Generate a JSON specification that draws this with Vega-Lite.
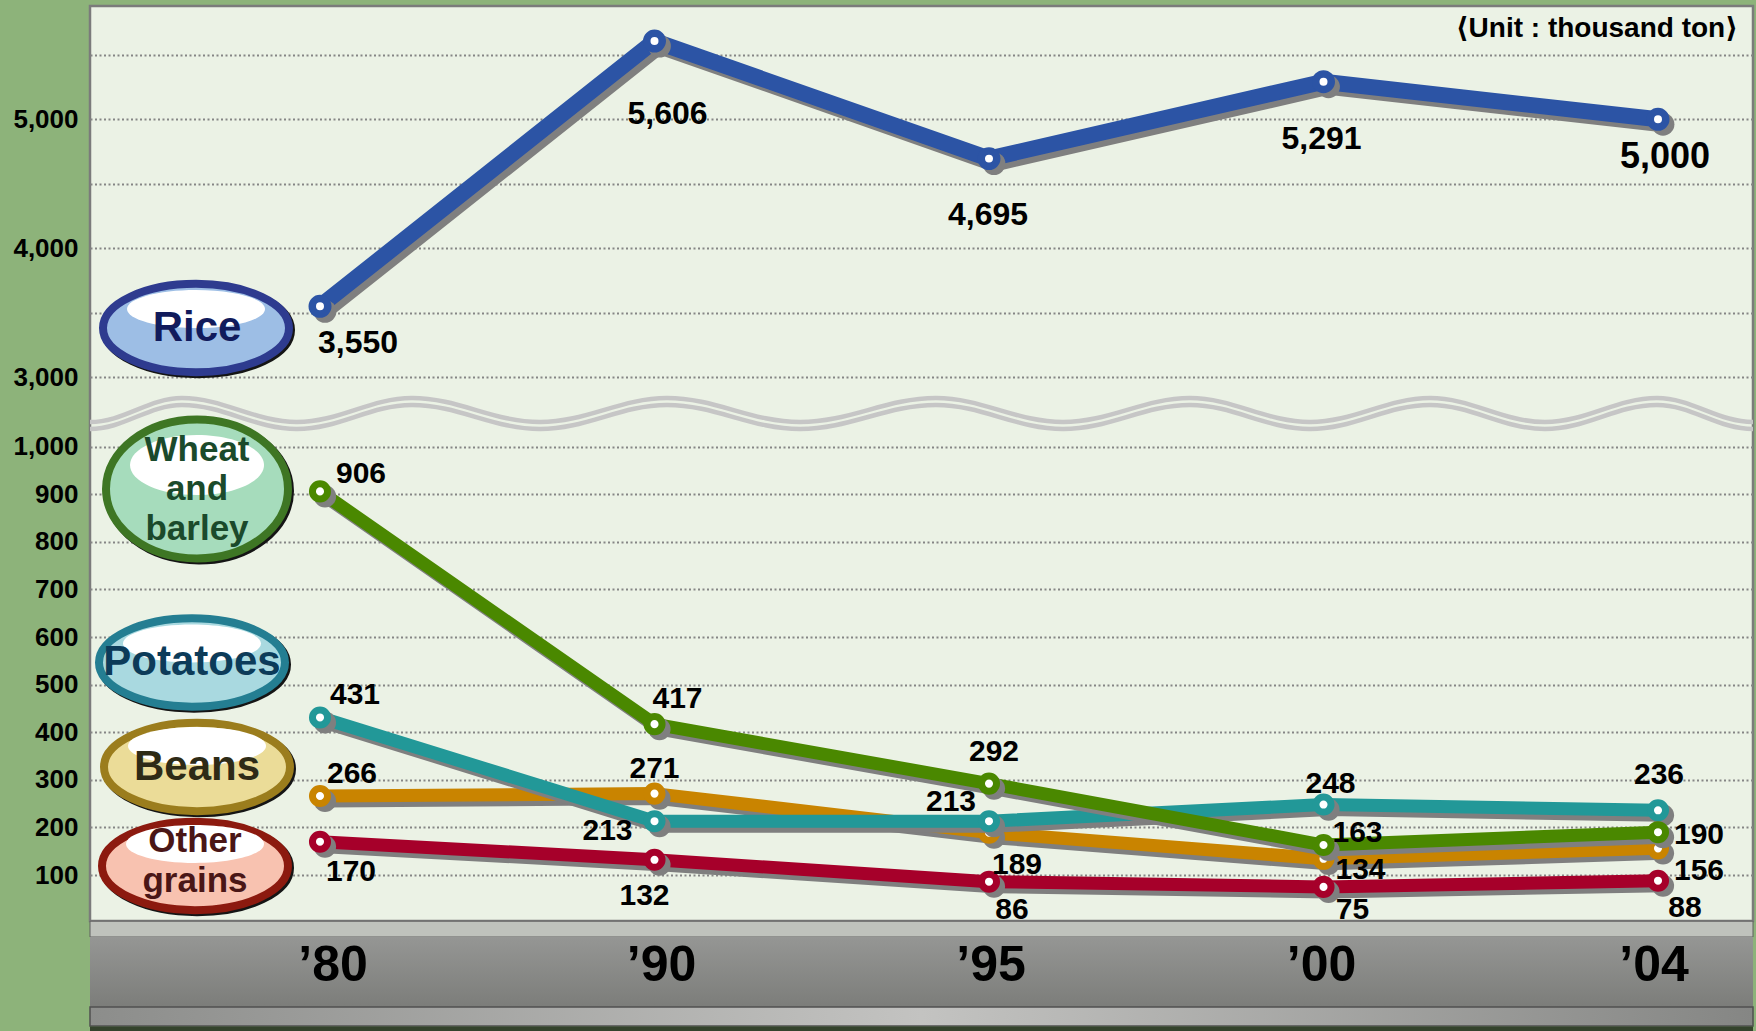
{
  "$schema": "https://vega.github.io/schema/vega-lite/v6.json",
  "width": 1663,
  "height": 915,
  "autosize": {"type": "none"},
  "padding": {"left": 90, "top": 6, "right": 3, "bottom": 110},
  "background": "#8db37a",
  "config": {
    "view": {"fill": "#ebf2e5", "stroke": "#7b7b7b", "strokeWidth": 2.5},
    "font": "Liberation Sans",
    "style": {
      "lbl": {"font": "Liberation Sans", "fontSize": 30, "fontWeight": "bold", "fill": "#000000", "align": "center", "baseline": "middle"},
      "leg": {"font": "Liberation Sans", "fontWeight": "bold", "align": "center", "baseline": "middle"},
      "xl": {"font": "Liberation Sans Narrow, Liberation Sans", "fontSize": 50, "fontWeight": "bold", "align": "center", "baseline": "middle", "fill": "#000000"}
    }
  },
  "datasets": {
    "crops": [
      {"series": "Other grains", "year": "’80", "value": 170},
      {"series": "Other grains", "year": "’90", "value": 132},
      {"series": "Other grains", "year": "’95", "value": 86},
      {"series": "Other grains", "year": "’00", "value": 75},
      {"series": "Other grains", "year": "’04", "value": 88},
      {"series": "Beans", "year": "’80", "value": 266},
      {"series": "Beans", "year": "’90", "value": 271},
      {"series": "Beans", "year": "’95", "value": 189},
      {"series": "Beans", "year": "’00", "value": 134},
      {"series": "Beans", "year": "’04", "value": 156},
      {"series": "Potatoes", "year": "’80", "value": 431},
      {"series": "Potatoes", "year": "’90", "value": 213},
      {"series": "Potatoes", "year": "’95", "value": 213},
      {"series": "Potatoes", "year": "’00", "value": 248},
      {"series": "Potatoes", "year": "’04", "value": 236},
      {"series": "Wheat and barley", "year": "’80", "value": 906},
      {"series": "Wheat and barley", "year": "’90", "value": 417},
      {"series": "Wheat and barley", "year": "’95", "value": 292},
      {"series": "Wheat and barley", "year": "’00", "value": 163},
      {"series": "Wheat and barley", "year": "’04", "value": 190},
      {"series": "Rice", "year": "’80", "value": 3550},
      {"series": "Rice", "year": "’90", "value": 5606},
      {"series": "Rice", "year": "’95", "value": 4695},
      {"series": "Rice", "year": "’00", "value": 5291},
      {"series": "Rice", "year": "’04", "value": 5000}
    ]
  },
  "data": {"name": "crops"},
  "layer": [
    {
      "data": {"values": [{}]},
      "mark": {"type": "rect", "fill": "#bfc2bc", "stroke": "#5f5f5f", "strokeWidth": 1},
      "encoding": {"y": {"datum": 3, "type": "quantitative", "title": null}, "y2": {"datum": -30.3}}
    },
    {
      "data": {"values": [{}]},
      "mark": {"type": "rect", "fill": {"gradient": "linear", "x1": 0, "y1": 0, "x2": 0, "y2": 1, "stops": [{"offset": 0, "color": "#959694"}, {"offset": 1, "color": "#7c7d7a"}]}},
      "encoding": {"y": {"datum": -30.3, "type": "quantitative", "title": null}, "y2": {"datum": -177.3}}
    },
    {
      "data": {"values": [{}]},
      "mark": {"type": "rect", "stroke": "#505050", "strokeWidth": 1.5, "fill": {"gradient": "linear", "x1": 0, "y1": 0, "x2": 1, "y2": 0, "stops": [{"offset": 0, "color": "#8c8d8b"}, {"offset": 0.5, "color": "#c3c3c1"}, {"offset": 1, "color": "#858684"}]}},
      "encoding": {"y": {"datum": -177.3, "type": "quantitative", "title": null}, "y2": {"datum": -217.3}}
    },
    {
      "data": {"values": [{}]},
      "mark": {"type": "rect", "fill": "#34432c"},
      "encoding": {"y": {"datum": -218.5, "type": "quantitative", "title": null}, "y2": {"datum": -235}}
    },
    {
      "transform": [{"filter": "datum.series=='Rice'"}],
      "encoding": {
        "x": {"field": "year", "type": "ordinal", "axis": null},
        "y": {"datum": -91.2, "type": "quantitative", "title": null},
        "text": {"field": "year"}
      },
      "layer": [
        {"transform": [{"filter": "datum.year=='’80'"}], "mark": {"type": "text", "style": "xl", "dx": 13}},
        {"transform": [{"filter": "datum.year=='’90'"}], "mark": {"type": "text", "style": "xl", "dx": 7}},
        {"transform": [{"filter": "datum.year=='’95'"}], "mark": {"type": "text", "style": "xl", "dx": 2}},
        {"transform": [{"filter": "datum.year=='’00'"}], "mark": {"type": "text", "style": "xl", "dx": -2}},
        {"transform": [{"filter": "datum.year=='’04'"}], "mark": {"type": "text", "style": "xl", "dx": -4}}
      ]
    },
    {
      "data": {"values": [{}]},
      "mark": {
        "type": "point", "filled": false, "color": "#c6c6c6", "strokeWidth": 4.5, "opacity": 1, "size": 2765569, "xOffset": -67.5,
        "shape": "M-1,0.0102C-0.9597,0.0102 -0.9297,-0.0186 -0.8894,-0.0186C-0.8390,-0.0186 -0.8015,0.0102 -0.7511,0.0102C-0.7007,0.0102 -0.6632,-0.0186 -0.6128,-0.0186C-0.5567,-0.0186 -0.5149,0.0102 -0.4588,0.0102C-0.4032,0.0102 -0.3617,-0.0186 -0.3061,-0.0186C-0.2478,-0.0186 -0.2044,0.0102 -0.1461,0.0102C-0.0866,0.0102 -0.0421,-0.0186 0.0174,-0.0186C0.0731,-0.0186 0.1145,0.0102 0.1702,0.0102C0.2258,0.0102 0.2673,-0.0186 0.3229,-0.0186C0.3755,-0.0186 0.4146,0.0102 0.4672,0.0102C0.5198,0.0102 0.5590,-0.0186 0.6116,-0.0186C0.6619,-0.0186 0.6995,0.0102 0.7498,0.0102C0.7989,0.0102 0.8354,-0.0186 0.8845,-0.0186C0.9266,-0.0186 0.9579,0.0102 1,0.0102M-1,0.0186C-0.9597,0.0186 -0.9297,-0.0102 -0.8894,-0.0102C-0.8390,-0.0102 -0.8015,0.0186 -0.7511,0.0186C-0.7007,0.0186 -0.6632,-0.0102 -0.6128,-0.0102C-0.5567,-0.0102 -0.5149,0.0186 -0.4588,0.0186C-0.4032,0.0186 -0.3617,-0.0102 -0.3061,-0.0102C-0.2478,-0.0102 -0.2044,0.0186 -0.1461,0.0186C-0.0866,0.0186 -0.0421,-0.0102 0.0174,-0.0102C0.0731,-0.0102 0.1145,0.0186 0.1702,0.0186C0.2258,0.0186 0.2673,-0.0102 0.3229,-0.0102C0.3755,-0.0102 0.4146,0.0186 0.4672,0.0186C0.5198,0.0186 0.5590,-0.0102 0.6116,-0.0102C0.6619,-0.0102 0.6995,0.0186 0.7498,0.0186C0.7989,0.0186 0.8354,-0.0102 0.8845,-0.0102C0.9266,-0.0102 0.9579,0.0186 1,0.0186"
      },
      "encoding": {"x": {"datum": "’95", "type": "ordinal", "axis": null}, "y": {"datum": 2719, "type": "quantitative", "title": null}}
    },
    {
      "transform": [{"filter": "datum.series=='Other grains'"}],
      "encoding": {
        "x": {"field": "year", "type": "ordinal", "scale": {"type": "point", "domain": ["’80", "’90", "’95", "’00", "’04"], "padding": 0.4858, "align": 0.7077}, "axis": null},
        "y": {
          "field": "value", "type": "quantitative",
          "scale": {"type": "linear", "domain": [0, 1056, 2669, 5878], "range": [916.6, 414, 414, 0], "nice": false, "zero": false},
          "axis": {
            "title": null, "domain": false, "ticks": false, "grid": true, "gridColor": "#858585", "gridDash": [2, 2.5], "gridWidth": 1.8,
            "values": [100, 200, 300, 400, 500, 600, 700, 800, 900, 1000, 3000, 3500, 4000, 4500, 5000, 5500],
            "labelExpr": "(datum.value <= 1000 || datum.value % 1000 == 0) ? format(datum.value, ',') : ''",
            "labelFont": "Liberation Sans", "labelFontSize": 26, "labelFontWeight": "bold", "labelColor": "#000000",
            "labelPadding": 12, "labelOverlap": false, "labelFlush": false, "labelBound": false
          }
        },
        "order": {"value": null}
      },
      "layer": [
        {"mark": {"type": "line", "color": "#7f7f7f", "strokeWidth": 13, "strokeJoin": "round", "xOffset": 5, "yOffset": 5}},
        {"mark": {"type": "line", "color": "#a6002a", "strokeWidth": 13, "strokeJoin": "round"}},
        {"mark": {"type": "point", "shape": "circle", "filled": true, "fill": "#7f7f7f", "size": 491, "opacity": 1, "xOffset": 5, "yOffset": 5}},
        {"mark": {"type": "point", "shape": "circle", "filled": true, "fill": "#ffffff", "stroke": "#a6002a", "strokeWidth": 7, "size": 227, "opacity": 1}}
      ]
    },
    {
      "transform": [{"filter": "datum.series=='Beans'"}],
      "encoding": {
        "x": {"field": "year", "type": "ordinal", "axis": null},
        "y": {"field": "value", "type": "quantitative", "title": null},
        "order": {"value": null}
      },
      "layer": [
        {"mark": {"type": "line", "color": "#7f7f7f", "strokeWidth": 13, "strokeJoin": "round", "xOffset": 5, "yOffset": 5}},
        {"mark": {"type": "line", "color": "#c98400", "strokeWidth": 13, "strokeJoin": "round"}},
        {"mark": {"type": "point", "shape": "circle", "filled": true, "fill": "#7f7f7f", "size": 491, "opacity": 1, "xOffset": 5, "yOffset": 5}},
        {"mark": {"type": "point", "shape": "circle", "filled": true, "fill": "#ffffff", "stroke": "#c98400", "strokeWidth": 7, "size": 227, "opacity": 1}}
      ]
    },
    {
      "transform": [{"filter": "datum.series=='Potatoes'"}],
      "encoding": {
        "x": {"field": "year", "type": "ordinal", "axis": null},
        "y": {"field": "value", "type": "quantitative", "title": null},
        "order": {"value": null}
      },
      "layer": [
        {"mark": {"type": "line", "color": "#7f7f7f", "strokeWidth": 13, "strokeJoin": "round", "xOffset": 5, "yOffset": 5}},
        {"mark": {"type": "line", "color": "#229898", "strokeWidth": 13, "strokeJoin": "round"}},
        {"mark": {"type": "point", "shape": "circle", "filled": true, "fill": "#7f7f7f", "size": 491, "opacity": 1, "xOffset": 5, "yOffset": 5}},
        {"mark": {"type": "point", "shape": "circle", "filled": true, "fill": "#ffffff", "stroke": "#229898", "strokeWidth": 7, "size": 227, "opacity": 1}}
      ]
    },
    {
      "transform": [{"filter": "datum.series=='Wheat and barley'"}],
      "encoding": {
        "x": {"field": "year", "type": "ordinal", "axis": null},
        "y": {"field": "value", "type": "quantitative", "title": null},
        "order": {"value": null}
      },
      "layer": [
        {"mark": {"type": "line", "color": "#7f7f7f", "strokeWidth": 13, "strokeJoin": "round", "xOffset": 5, "yOffset": 5}},
        {"mark": {"type": "line", "color": "#4a8800", "strokeWidth": 13, "strokeJoin": "round"}},
        {"mark": {"type": "point", "shape": "circle", "filled": true, "fill": "#7f7f7f", "size": 491, "opacity": 1, "xOffset": 5, "yOffset": 5}},
        {"mark": {"type": "point", "shape": "circle", "filled": true, "fill": "#ffffff", "stroke": "#4a8800", "strokeWidth": 7, "size": 227, "opacity": 1}}
      ]
    },
    {
      "transform": [{"filter": "datum.series=='Rice'"}],
      "encoding": {
        "x": {"field": "year", "type": "ordinal", "axis": null},
        "y": {"field": "value", "type": "quantitative", "title": null},
        "order": {"value": null}
      },
      "layer": [
        {"mark": {"type": "line", "color": "#7f7f7f", "strokeWidth": 16, "strokeJoin": "round", "xOffset": 5, "yOffset": 5}},
        {"mark": {"type": "line", "color": "#2c54a5", "strokeWidth": 16, "strokeJoin": "round"}},
        {"mark": {"type": "point", "shape": "circle", "filled": true, "fill": "#7f7f7f", "size": 520, "opacity": 1, "xOffset": 5, "yOffset": 5}},
        {"mark": {"type": "point", "shape": "circle", "filled": true, "fill": "#ffffff", "stroke": "#2c54a5", "strokeWidth": 7.5, "size": 240, "opacity": 1}}
      ]
    },
    {
      "data": {"values": [{"label": "Rice"}]},
      "encoding": {"x": {"datum": "’80", "type": "ordinal", "axis": null}, "y": {"datum": 3382, "type": "quantitative", "title": null}},
      "layer": [
        {"mark": {"type": "point", "opacity": 1, "filled": true, "fill": "#151515", "stroke": "#151515", "strokeWidth": 8, "size": 34596, "xOffset": -122, "yOffset": 2, "shape": "M-1,0C-1,-0.2623 -0.5523,-0.475 0,-0.475C0.5523,-0.475 1,-0.2623 1,0C1,0.2623 0.5523,0.475 0,0.475C-0.5523,0.475 -1,0.2623 -1,0Z"}},
        {"mark": {"type": "point", "opacity": 1, "filled": true, "fill": "#9dbee5", "stroke": "#2e3b8f", "strokeWidth": 8, "size": 34596, "xOffset": -124, "shape": "M-1,0C-1,-0.2623 -0.5523,-0.475 0,-0.475C0.5523,-0.475 1,-0.2623 1,0C1,0.2623 0.5523,0.475 0,0.475C-0.5523,0.475 -1,0.2623 -1,0Z"}},
        {"mark": {"type": "point", "opacity": 1, "filled": true, "fill": "#ffffff", "strokeWidth": 0, "size": 19044, "xOffset": -124, "yOffset": -19, "shape": "M-1,0C-1,-0.1521 -0.5523,-0.2754 0,-0.2754C0.5523,-0.2754 1,-0.1521 1,0C1,0.1521 0.5523,0.2754 0,0.2754C-0.5523,0.2754 -1,0.1521 -1,0Z"}},
        {"mark": {"type": "text", "style": "leg", "fontSize": 42, "fill": "#111b5c", "dx": -123}, "encoding": {"text": {"field": "label"}}}
      ]
    },
    {
      "data": {"values": [{"label": "Wheat\nand\nbarley"}]},
      "encoding": {"x": {"datum": "’80", "type": "ordinal", "axis": null}, "y": {"datum": 911, "type": "quantitative", "title": null}},
      "layer": [
        {"mark": {"type": "point", "opacity": 1, "filled": true, "fill": "#151515", "stroke": "#151515", "strokeWidth": 8, "size": 33124, "xOffset": -121, "yOffset": 2, "shape": "M-1,0C-1,-0.4218 -0.5523,-0.7637 0,-0.7637C0.5523,-0.7637 1,-0.4218 1,0C1,0.4218 0.5523,0.7637 0,0.7637C-0.5523,0.7637 -1,0.4218 -1,0Z"}},
        {"mark": {"type": "point", "opacity": 1, "filled": true, "fill": "#a6dcbc", "stroke": "#3e7624", "strokeWidth": 8, "size": 33124, "xOffset": -123, "shape": "M-1,0C-1,-0.4218 -0.5523,-0.7637 0,-0.7637C0.5523,-0.7637 1,-0.4218 1,0C1,0.4218 0.5523,0.7637 0,0.7637C-0.5523,0.7637 -1,0.4218 -1,0Z"}},
        {"mark": {"type": "point", "opacity": 1, "filled": true, "fill": "#ffffff", "strokeWidth": 0, "size": 17956, "xOffset": -123, "yOffset": -24, "shape": "M-1,0C-1,-0.2473 -0.5523,-0.4478 0,-0.4478C0.5523,-0.4478 1,-0.2473 1,0C1,0.2473 0.5523,0.4478 0,0.4478C-0.5523,0.4478 -1,0.2473 -1,0Z"}},
        {"mark": {"type": "text", "style": "leg", "fontSize": 35, "lineHeight": 39.5, "lineBreak": "\n", "fill": "#1b4a2b", "dx": -123, "dy": -39.5}, "encoding": {"text": {"field": "label"}}}
      ]
    },
    {
      "data": {"values": [{"label": "Potatoes"}]},
      "encoding": {"x": {"datum": "’80", "type": "ordinal", "axis": null}, "y": {"datum": 546.5, "type": "quantitative", "title": null}},
      "layer": [
        {"mark": {"type": "point", "opacity": 1, "filled": true, "fill": "#151515", "stroke": "#151515", "strokeWidth": 8, "size": 34596, "xOffset": -126, "yOffset": 2, "shape": "M-1,0C-1,-0.2623 -0.5523,-0.475 0,-0.475C0.5523,-0.475 1,-0.2623 1,0C1,0.2623 0.5523,0.475 0,0.475C-0.5523,0.475 -1,0.2623 -1,0Z"}},
        {"mark": {"type": "point", "opacity": 1, "filled": true, "fill": "#a9d9e0", "stroke": "#247e92", "strokeWidth": 8, "size": 34596, "xOffset": -128, "shape": "M-1,0C-1,-0.2623 -0.5523,-0.475 0,-0.475C0.5523,-0.475 1,-0.2623 1,0C1,0.2623 0.5523,0.475 0,0.475C-0.5523,0.475 -1,0.2623 -1,0Z"}},
        {"mark": {"type": "point", "opacity": 1, "filled": true, "fill": "#ffffff", "strokeWidth": 0, "size": 19044, "xOffset": -128, "yOffset": -19, "shape": "M-1,0C-1,-0.1521 -0.5523,-0.2754 0,-0.2754C0.5523,-0.2754 1,-0.1521 1,0C1,0.1521 0.5523,0.2754 0,0.2754C-0.5523,0.2754 -1,0.1521 -1,0Z"}},
        {"mark": {"type": "text", "style": "leg", "fontSize": 42, "fill": "#0c3b59", "dx": -128}, "encoding": {"text": {"field": "label"}}}
      ]
    },
    {
      "data": {"values": [{"label": "Beans"}]},
      "encoding": {"x": {"datum": "’80", "type": "ordinal", "axis": null}, "y": {"datum": 327, "type": "quantitative", "title": null}},
      "layer": [
        {"mark": {"type": "point", "opacity": 1, "filled": true, "fill": "#151515", "stroke": "#151515", "strokeWidth": 8, "size": 34596, "xOffset": -121, "yOffset": 2, "shape": "M-1,0C-1,-0.2623 -0.5523,-0.475 0,-0.475C0.5523,-0.475 1,-0.2623 1,0C1,0.2623 0.5523,0.475 0,0.475C-0.5523,0.475 -1,0.2623 -1,0Z"}},
        {"mark": {"type": "point", "opacity": 1, "filled": true, "fill": "#ebdc98", "stroke": "#9b7d1d", "strokeWidth": 8, "size": 34596, "xOffset": -123, "shape": "M-1,0C-1,-0.2623 -0.5523,-0.475 0,-0.475C0.5523,-0.475 1,-0.2623 1,0C1,0.2623 0.5523,0.475 0,0.475C-0.5523,0.475 -1,0.2623 -1,0Z"}},
        {"mark": {"type": "point", "opacity": 1, "filled": true, "fill": "#ffffff", "strokeWidth": 0, "size": 19044, "xOffset": -123, "yOffset": -21, "shape": "M-1,0C-1,-0.1521 -0.5523,-0.2754 0,-0.2754C0.5523,-0.2754 1,-0.1521 1,0C1,0.1521 0.5523,0.2754 0,0.2754C-0.5523,0.2754 -1,0.1521 -1,0Z"}},
        {"mark": {"type": "text", "style": "leg", "fontSize": 42, "fill": "#2e2b16", "dx": -123}, "encoding": {"text": {"field": "label"}}}
      ]
    },
    {
      "data": {"values": [{"label": "Other\ngrains"}]},
      "encoding": {"x": {"datum": "’80", "type": "ordinal", "axis": null}, "y": {"datum": 119, "type": "quantitative", "title": null}},
      "layer": [
        {"mark": {"type": "point", "opacity": 1, "filled": true, "fill": "#151515", "stroke": "#151515", "strokeWidth": 8, "size": 34596, "xOffset": -123, "yOffset": 2, "shape": "M-1,0C-1,-0.2623 -0.5523,-0.475 0,-0.475C0.5523,-0.475 1,-0.2623 1,0C1,0.2623 0.5523,0.475 0,0.475C-0.5523,0.475 -1,0.2623 -1,0Z"}},
        {"mark": {"type": "point", "opacity": 1, "filled": true, "fill": "#f8c2b0", "stroke": "#8c1a0f", "strokeWidth": 8, "size": 34596, "xOffset": -125, "shape": "M-1,0C-1,-0.2623 -0.5523,-0.475 0,-0.475C0.5523,-0.475 1,-0.2623 1,0C1,0.2623 0.5523,0.475 0,0.475C-0.5523,0.475 -1,0.2623 -1,0Z"}},
        {"mark": {"type": "point", "opacity": 1, "filled": true, "fill": "#ffffff", "strokeWidth": 0, "size": 19044, "xOffset": -125, "yOffset": -22, "shape": "M-1,0C-1,-0.1521 -0.5523,-0.2754 0,-0.2754C0.5523,-0.2754 1,-0.1521 1,0C1,0.1521 0.5523,0.2754 0,0.2754C-0.5523,0.2754 -1,0.1521 -1,0Z"}},
        {"mark": {"type": "text", "style": "leg", "fontSize": 35, "lineHeight": 39.5, "lineBreak": "\n", "fill": "#4a1616", "dx": -125, "dy": -24.5}, "encoding": {"text": {"field": "label"}}}
      ]
    },
    {
      "encoding": {
        "x": {"field": "year", "type": "ordinal", "axis": null},
        "y": {"field": "value", "type": "quantitative", "title": null},
        "text": {"field": "value", "type": "quantitative", "format": ","}
      },
      "layer": [
        {"transform": [{"filter": "datum.series=='Rice' && datum.year=='’80'"}], "mark": {"type": "text", "style": "lbl", "fontSize": 32, "dx": 38, "dy": 37}},
        {"transform": [{"filter": "datum.series=='Rice' && datum.year=='’90'"}], "mark": {"type": "text", "style": "lbl", "fontSize": 32, "dx": 13, "dy": 73}},
        {"transform": [{"filter": "datum.series=='Rice' && datum.year=='’95'"}], "mark": {"type": "text", "style": "lbl", "fontSize": 32, "dx": -1, "dy": 56}},
        {"transform": [{"filter": "datum.series=='Rice' && datum.year=='’00'"}], "mark": {"type": "text", "style": "lbl", "fontSize": 32, "dx": -2, "dy": 57}},
        {"transform": [{"filter": "datum.series=='Rice' && datum.year=='’04'"}], "mark": {"type": "text", "style": "lbl", "fontSize": 36, "dx": 7, "dy": 38}},
        {"transform": [{"filter": "datum.series=='Wheat and barley' && datum.year=='’80'"}], "mark": {"type": "text", "style": "lbl", "dx": 41, "dy": -17}},
        {"transform": [{"filter": "datum.series=='Wheat and barley' && datum.year=='’90'"}], "mark": {"type": "text", "style": "lbl", "dx": 23, "dy": -25}},
        {"transform": [{"filter": "datum.series=='Wheat and barley' && datum.year=='’95'"}], "mark": {"type": "text", "style": "lbl", "dx": 5, "dy": -32}},
        {"transform": [{"filter": "datum.series=='Wheat and barley' && datum.year=='’00'"}], "mark": {"type": "text", "style": "lbl", "dx": 34, "dy": -12}},
        {"transform": [{"filter": "datum.series=='Wheat and barley' && datum.year=='’04'"}], "mark": {"type": "text", "style": "lbl", "dx": 41, "dy": 3}},
        {"transform": [{"filter": "datum.series=='Potatoes' && datum.year=='’80'"}], "mark": {"type": "text", "style": "lbl", "dx": 35, "dy": -22}},
        {"transform": [{"filter": "datum.series=='Potatoes' && datum.year=='’90'"}], "mark": {"type": "text", "style": "lbl", "dx": -47, "dy": 10}},
        {"transform": [{"filter": "datum.series=='Potatoes' && datum.year=='’95'"}], "mark": {"type": "text", "style": "lbl", "dx": -38, "dy": -19}},
        {"transform": [{"filter": "datum.series=='Potatoes' && datum.year=='’00'"}], "mark": {"type": "text", "style": "lbl", "dx": 7, "dy": -21}},
        {"transform": [{"filter": "datum.series=='Potatoes' && datum.year=='’04'"}], "mark": {"type": "text", "style": "lbl", "dx": 1, "dy": -35}},
        {"transform": [{"filter": "datum.series=='Beans' && datum.year=='’80'"}], "mark": {"type": "text", "style": "lbl", "dx": 32, "dy": -22}},
        {"transform": [{"filter": "datum.series=='Beans' && datum.year=='’90'"}], "mark": {"type": "text", "style": "lbl", "dx": 0, "dy": -25}},
        {"transform": [{"filter": "datum.series=='Beans' && datum.year=='’95'"}], "mark": {"type": "text", "style": "lbl", "dx": 28, "dy": 32}},
        {"transform": [{"filter": "datum.series=='Beans' && datum.year=='’00'"}], "mark": {"type": "text", "style": "lbl", "dx": 37, "dy": 11}},
        {"transform": [{"filter": "datum.series=='Beans' && datum.year=='’04'"}], "mark": {"type": "text", "style": "lbl", "dx": 41, "dy": 23}},
        {"transform": [{"filter": "datum.series=='Other grains' && datum.year=='’80'"}], "mark": {"type": "text", "style": "lbl", "dx": 31, "dy": 30}},
        {"transform": [{"filter": "datum.series=='Other grains' && datum.year=='’90'"}], "mark": {"type": "text", "style": "lbl", "dx": -10, "dy": 36}},
        {"transform": [{"filter": "datum.series=='Other grains' && datum.year=='’95'"}], "mark": {"type": "text", "style": "lbl", "dx": 23, "dy": 28}},
        {"transform": [{"filter": "datum.series=='Other grains' && datum.year=='’00'"}], "mark": {"type": "text", "style": "lbl", "dx": 29, "dy": 23}},
        {"transform": [{"filter": "datum.series=='Other grains' && datum.year=='’04'"}], "mark": {"type": "text", "style": "lbl", "dx": 27, "dy": 27}}
      ]
    },
    {
      "data": {"values": [{"t": "⟨Unit : thousand ton⟩"}]},
      "mark": {"type": "text", "font": "Liberation Sans, DejaVu Sans", "fontSize": 28, "fontWeight": "bold", "fill": "#000000", "align": "right", "baseline": "middle", "dx": 80},
      "encoding": {
        "x": {"datum": "’04", "type": "ordinal", "axis": null},
        "y": {"datum": 5700, "type": "quantitative", "title": null},
        "text": {"field": "t"}
      }
    }
  ]
}
